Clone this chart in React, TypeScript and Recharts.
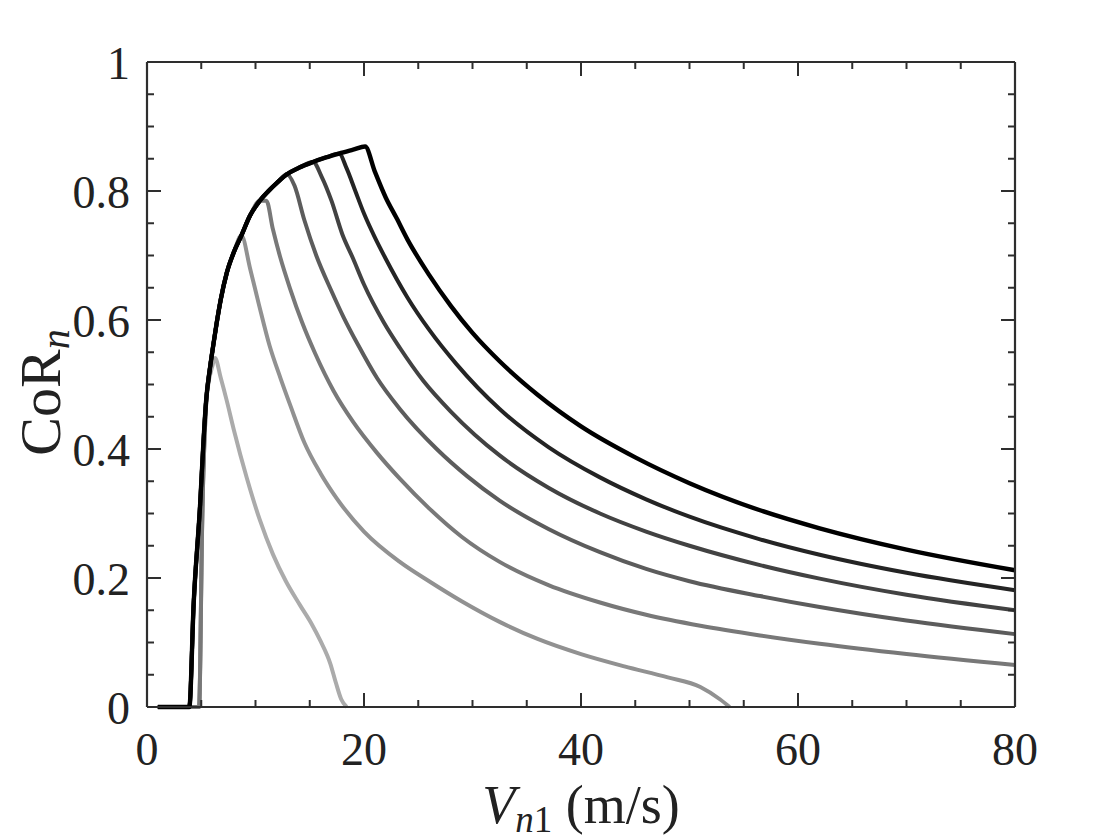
import React from 'react';
import { LineChart, Line, XAxis, YAxis } from 'recharts';

// ---- data ----
const xTicks = [0, 5, 10, 15, 20, 25, 30, 35, 40, 45, 50, 55, 60, 65, 70, 75, 80];
const yTicks = [0, 0.05, 0.1, 0.15, 0.2, 0.25, 0.3, 0.35, 0.4, 0.45, 0.5, 0.55, 0.6, 0.65, 0.7, 0.75, 0.8, 0.85, 0.9, 0.95, 1];

// shared rising envelope (V, CoR)
const envV = [1, 3.9, 4.3, 4.9, 5.2, 5.45, 5.8, 6.1, 6.4, 6.8, 7.35, 8, 8.7, 9.5, 10.4, 11.2, 12, 12.9, 14, 15.3, 16.5, 17.7, 19, 20.1];
const envC = [0, 0, 0.16, 0.315, 0.41, 0.475, 0.525, 0.56, 0.593, 0.632, 0.673, 0.705, 0.731, 0.762, 0.785, 0.8, 0.813, 0.826, 0.836, 0.845, 0.852, 0.858, 0.864, 0.869];

// curve 1 (lightest)
const v1 = [1, 4.8, 5.05, 5.3, 5.6, 6.0, 6.27, 6.8, 7.35, 8, 9.2, 10.4, 11.6, 12.8, 14.1, 15.2, 16, 16.9, 17.4, 17.9, 18.4];
const c1 = [0, 0, 0.25, 0.44, 0.495, 0.527, 0.541, 0.51, 0.475, 0.43, 0.355, 0.29, 0.237, 0.195, 0.158, 0.128, 0.102, 0.067, 0.038, 0.012, 0];

// curve 2
const v2 = [1, 4.8, 5.1, 5.45, 5.8, 6.1, 6.4, 6.8, 7.35, 8, 8.7, 9.5, 10.3, 11.3, 12.3, 13.2, 14.5, 16, 17.5, 20, 23.3, 26, 29, 32.5, 36, 40, 44, 48, 51, 52.8, 53.7];
const c2 = [0, 0, 0.3, 0.47, 0.525, 0.56, 0.593, 0.632, 0.673, 0.705, 0.731, 0.68, 0.625, 0.56, 0.51, 0.468, 0.41, 0.362, 0.323, 0.272, 0.225, 0.195, 0.164, 0.132, 0.1055, 0.082, 0.063, 0.046, 0.031, 0.012, 0];

// curve 3
const v3 = [1, 4.8, 5.1, 5.45, 5.8, 6.1, 6.4, 6.8, 7.35, 8, 8.7, 9.5, 10.4, 11, 11.6, 12.3, 13.2, 14.3, 15.5, 17.2, 19, 21.2, 23.3, 26, 29, 32.5, 37, 41.75, 46, 51, 56.5, 62, 70, 80];
const c3 = [0, 0, 0.3, 0.47, 0.525, 0.56, 0.593, 0.632, 0.673, 0.705, 0.731, 0.762, 0.785, 0.785, 0.741, 0.696, 0.648, 0.596, 0.548, 0.49, 0.442, 0.394, 0.354, 0.308, 0.264, 0.225, 0.189, 0.162, 0.143, 0.126, 0.111, 0.098, 0.082, 0.065];

// curves 4..7: descending parts after their peaks on the envelope
const d4V = [13.6, 14.5, 15.6, 17, 18.1, 19.5, 21.2, 23.3, 26.7, 29.5, 32.5, 37, 41.75, 46, 50, 56.5, 62, 70, 80];
const d4C = [0.808, 0.755, 0.7, 0.645, 0.605, 0.56, 0.51, 0.462, 0.4, 0.358, 0.32, 0.276, 0.24, 0.214, 0.195, 0.172, 0.155, 0.134, 0.113];
const peak4 = 12.9;

const d5V = [16.1, 17, 18, 19, 20, 21.8, 23.3, 25.5, 28, 32.5, 37, 41.75, 46, 50, 56.5, 62, 70, 80];
const d5C = [0.822, 0.785, 0.733, 0.695, 0.655, 0.597, 0.557, 0.505, 0.458, 0.39, 0.34, 0.3, 0.272, 0.25, 0.22, 0.199, 0.174, 0.15];
const peak5 = 15.3;

const d6V = [18.4, 19.2, 20, 21, 22, 24, 26, 28.5, 32.5, 37, 41.75, 46, 50, 56.5, 62, 70, 80];
const d6C = [0.835, 0.8, 0.765, 0.728, 0.695, 0.635, 0.585, 0.532, 0.462, 0.403, 0.356, 0.322, 0.295, 0.26, 0.236, 0.208, 0.181];
const peak6 = 17.7;

const d7V = [21, 22, 23, 24, 26, 28, 30, 32.5, 36, 40, 45, 50, 56.5, 62, 70, 80];
const d7C = [0.83, 0.79, 0.758, 0.725, 0.67, 0.622, 0.58, 0.536, 0.484, 0.435, 0.387, 0.347, 0.305, 0.277, 0.244, 0.212];
const peak7 = 20.1;

const colors = ['#ababab', '#919191', '#787878', '#5c5c5c', '#424242', '#242424', '#000000'];

// ---- build series tables ----
const pairs = (vs: number[], cs: number[]) => vs.map((v, i) => ({ v, c: cs[i] }));
const envelopeTo = (peak: number) => pairs(envV, envC).filter((p) => p.v <= peak + 1e-9);

const series = [
  pairs(v1, c1),
  pairs(v2, c2),
  pairs(v3, c3),
  [...envelopeTo(peak4), ...pairs(d4V, d4C)],
  [...envelopeTo(peak5), ...pairs(d5V, d5C)],
  [...envelopeTo(peak6), ...pairs(d6V, d6C)],
  [...envelopeTo(peak7), ...pairs(d7V, d7C)],
];

const FONT = "'Liberation Serif', 'DejaVu Serif', serif";
const AX = '#2e2e2e';
const MAJOR = 14;
const MINOR = 7;

const isMajorX = (v: number) => Math.abs(v % 20) < 1e-6;
const isMajorY = (v: number) => Math.round(v * 100) % 20 === 0;
const fmtY = (v: number) => (v === 0 ? '0' : v === 1 ? '1' : v.toFixed(1));

const BottomTick = (props: any) => {
  const { x, y, payload } = props;
  const major = isMajorX(payload.value);
  return (
    <g>
      <line x1={x} y1={y} x2={x} y2={y - (major ? MAJOR : MINOR)} stroke={AX} strokeWidth={2} />
      {major && (
        <text x={x} y={y + 58} textAnchor="middle" fontSize={46} fontFamily={FONT} fill="#222">
          {payload.value}
        </text>
      )}
    </g>
  );
};

// top axis: tick y is the axis' outer edge (height 1), the frame line is 1px lower
const TopTick = (props: any) => {
  const { x, y, payload } = props;
  const major = isMajorX(payload.value);
  return <line x1={x} y1={y} x2={x} y2={y + (major ? MAJOR : MINOR)} stroke={AX} strokeWidth={2} />;
};

const LeftTick = (props: any) => {
  const { x, y, payload } = props;
  const major = isMajorY(payload.value);
  return (
    <g>
      <line x1={x} y1={y} x2={x + (major ? MAJOR : MINOR)} y2={y} stroke={AX} strokeWidth={2} />
      {major && (
        <text x={x - 17} y={y + 17} textAnchor="end" fontSize={46} fontFamily={FONT} fill="#222">
          {fmtY(payload.value)}
        </text>
      )}
    </g>
  );
};

const RightTick = (props: any) => {
  const { x, y, payload } = props;
  const major = isMajorY(payload.value);
  return <line x1={x} y1={y} x2={x - (major ? MAJOR : MINOR)} y2={y} stroke={AX} strokeWidth={2} />;
};

const XTitle = (props: any) => {
  const vb = props.viewBox || { x: 139, y: 699, width: 868 };
  const cx = vb.x + vb.width / 2;
  return (
    <text x={cx} y={vb.y + 116} textAnchor="middle" fontSize={54} fontFamily={FONT} fill="#222">
      <tspan fontStyle="italic">V</tspan>
      <tspan fontSize={37} dy={9} fontStyle="italic">n</tspan>
      <tspan fontSize={37}>1</tspan>
      <tspan dy={-9}> (m/s)</tspan>
    </text>
  );
};

const YTitle = (props: any) => {
  const vb = props.viewBox || { x: 0, y: 54, height: 645 };
  const cy = vb.y + vb.height / 2 + 8;
  const bx = 52;
  return (
    <text
      x={bx}
      y={cy}
      transform={`rotate(-90, ${bx}, ${cy})`}
      textAnchor="middle"
      fontSize={58}
      fontFamily={FONT}
      fill="#222"
    >
      <tspan>CoR</tspan>
      <tspan fontSize={40} dy={9} fontStyle="italic">n</tspan>
    </text>
  );
};

export default function App() {
  return (
    <div style={{ width: 1104, height: 832, background: '#fff' }}>
      <LineChart width={1104} height={832} margin={{ top: 53, right: 96, bottom: 0, left: 0 }}>
        <XAxis
          dataKey="v"
          type="number"
          domain={[0, 80]}
          ticks={xTicks}
          interval={0}
          height={133}
          tickSize={0}
          tickMargin={0}
          tickLine={false}
          axisLine={{ stroke: AX, strokeWidth: 2.2 }}
          tick={<BottomTick />}
          label={<XTitle />}
          allowDuplicatedCategory={false}
        />
        <XAxis
          xAxisId="top"
          orientation="top"
          dataKey="v"
          type="number"
          domain={[0, 80]}
          ticks={xTicks}
          interval={0}
          height={1}
          tickSize={0}
          tickMargin={0}
          tickLine={false}
          axisLine={{ stroke: AX, strokeWidth: 2.2 }}
          tick={<TopTick />}
          allowDuplicatedCategory={false}
        />
        <YAxis
          type="number"
          domain={[0, 1]}
          ticks={yTicks}
          interval={0}
          width={139}
          tickSize={0}
          tickMargin={0}
          tickLine={false}
          axisLine={{ stroke: AX, strokeWidth: 2.2 }}
          tick={<LeftTick />}
          label={<YTitle />}
        />
        <YAxis
          yAxisId="right"
          orientation="right"
          type="number"
          domain={[0, 1]}
          ticks={yTicks}
          interval={0}
          width={1}
          tickSize={0}
          tickMargin={0}
          tickLine={false}
          axisLine={{ stroke: AX, strokeWidth: 2.2 }}
          tick={<RightTick />}
        />
        {/* invisible series that binds the frame's top and right axes */}
        <Line
          data={series[6]}
          dataKey="c"
          xAxisId="top"
          yAxisId="right"
          stroke="none"
          strokeWidth={0}
          dot={false}
          activeDot={false}
          legendType="none"
          isAnimationActive={false}
        />
        {series.map((d, i) => (
          <Line
            key={i}
            data={d}
            dataKey="c"
            type="monotone"
            stroke={colors[i]}
            strokeWidth={i === 6 ? 4.4 : 4}
            dot={false}
            activeDot={false}
            isAnimationActive={false}
          />
        ))}
      </LineChart>
    </div>
  );
}
